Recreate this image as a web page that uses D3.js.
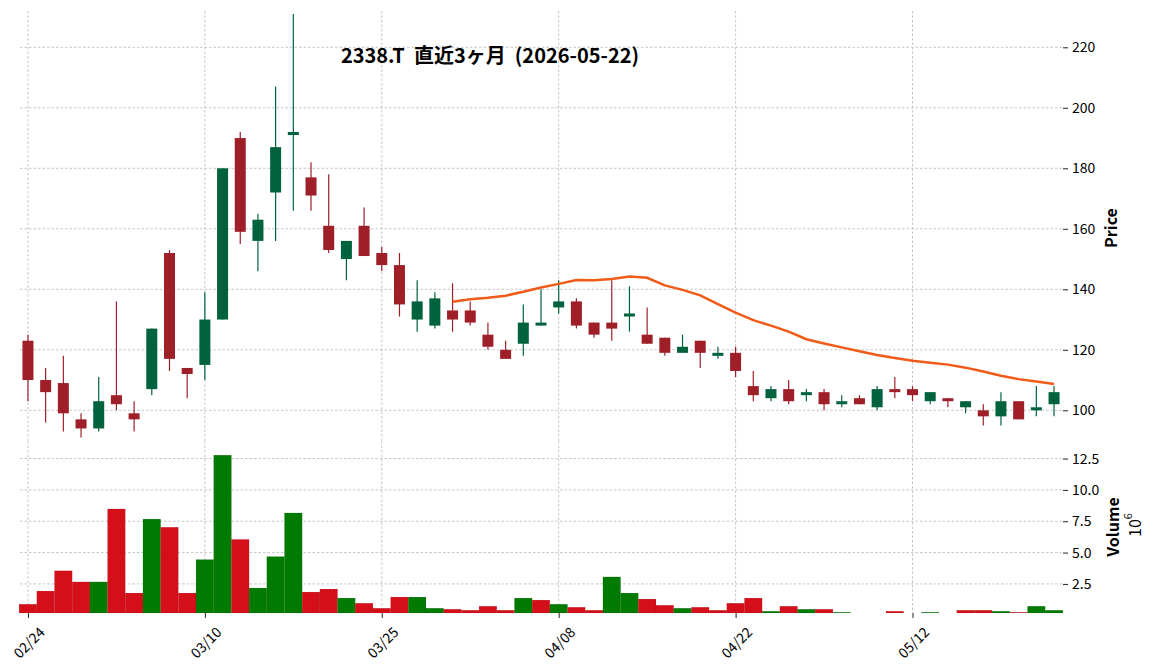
<!DOCTYPE html>
<html>
<head>
<meta charset="utf-8">
<script src="https://cdn.jsdelivr.net/npm/d3@7"></script>
<style>
  body { margin: 0; background: #fff; }
  svg text { font-family: "Noto Sans CJK JP", "Noto Sans", sans-serif; fill: #000; }
</style>
</head>
<body>
<div id="chart"></div>
<script>
// trading days, 2026
const dates = ["02/24","02/25","02/26","02/27","03/02","03/03","03/04","03/05","03/06","03/09",
  "03/10","03/11","03/12","03/13","03/16","03/17","03/18","03/19","03/23","03/24",
  "03/25","03/26","03/27","03/30","03/31","04/01","04/02","04/03","04/06","04/07",
  "04/08","04/09","04/10","04/13","04/14","04/15","04/16","04/17","04/20","04/21",
  "04/22","04/23","04/24","04/27","04/28","04/30","05/01","05/07","05/08","05/11",
  "05/12","05/13","05/14","05/15","05/18","05/19","05/20","05/21","05/22"];

const opens  = [123,110,109,97,94,105,99,107,152,114, 115,130,190,156,172,191,177,161,150,161,
  152,148,130,128,133,133,125,120,122,128, 134,136,129,129,131,125,124,119,123,118,
  119,108,104,107,105,106,102,104,101,107, 107,103,104,101,100,98,103,100,102];
const highs  = [125,114,118,99,111,136,103,127,153,114, 139,180,192,165,207,231,182,178,156,167,
  154,152,143,139,142,136,129,123,135,140, 143,137,129,143,141,134,124,125,123,121,
  121,113,108,110,107,107,105,105,108,111, 108,106,104,103,102,106,103,108,108];
const lows   = [103,96,93,91,93,100,93,105,113,104, 110,130,155,146,156,166,166,152,143,151,
  146,131,126,127,126,128,120,117,118,128, 132,127,124,123,126,122,118,119,114,117,
  111,103,103,102,103,100,101,102,100,104, 103,102,101,99,95,95,97,98,98];
const closes = [110,106,99,94,103,102,97,127,117,112, 130,180,159,163,187,192,171,153,156,151,
  148,135,136,137,130,129,121,117,129,129, 136,128,125,127,132,122,119,121,119,119,
  113,105,107,103,106,102,103,102,107,106, 105,106,103,103,98,103,97,101,106];
// volume, millions of shares
const volumes = [0.88,1.93,3.55,2.66,2.66,8.48,1.77,7.67,7.02,1.77,
  4.44,12.77,6.05,2.17,4.68,8.16,1.85,2.09,1.37,0.96,
  0.56,1.45,1.45,0.56,0.48,0.40,0.72,0.40,1.37,1.21,
  0.88,0.64,0.40,3.06,1.77,1.29,0.80,0.56,0.64,0.40,
  0.96,1.37,0.32,0.72,0.48,0.48,0.24,0.12,0.10,0.32,
  0.14,0.24,0.12,0.40,0.40,0.32,0.24,0.72,0.40];
// 25-day moving average, starts at day 24
const maStart = 24;
const ma25 = [135.9,136.7,137.2,137.9,139.2,140.6,141.8,143.1,143.0,143.4,
  144.2,143.8,141.3,139.8,138.0,135.1,132.3,129.8,128.0,126.0,
  123.5,122.1,120.8,119.5,118.3,117.3,116.4,115.7,115.1,114.1,
  112.8,111.4,110.3,109.5,108.7];

const xTickIdx = [0, 10, 20, 30, 40, 50];
const priceTicks = [100, 120, 140, 160, 180, 200, 220];
const volTicks = [2.5, 5.0, 7.5, 10.0, 12.5];

const title = "2338.T  直近3ヶ月  (2026-05-22)";

// layout
const W = 1156, H = 670;
const plotL = 20, plotR = 1062;
const priceTop = 11, priceBot = 441;
const volTop = 441, volBot = 613;

const upCandle = "#00633e", downCandle = "#9f1f29";
const upVol = "#007a00", downVol = "#d40f1a";
const gridColor = "#b8b8b8";

const svg = d3.select("#chart").append("svg")
    .attr("width", W)
    .attr("height", H);

const x = d3.scaleLinear()
    .domain([-0.45, dates.length - 0.55])
    .range([plotL, plotR]);
const step = x(1) - x(0);

const yPrice = d3.scaleLinear()
    .domain([89.85, 232.0])
    .range([priceBot, priceTop]);

const yVol = d3.scaleLinear()
    .domain([0.18, 13.9])
    .range([volBot, volTop]);

// grid
const grid = svg.append("g").attr("class", "grid");
grid.selectAll("line.hp").data(priceTicks).enter().append("line")
    .attr("x1", plotL).attr("x2", plotR)
    .attr("y1", d => yPrice(d)).attr("y2", d => yPrice(d));
grid.selectAll("line.hv").data(volTicks).enter().append("line")
    .attr("x1", plotL).attr("x2", plotR)
    .attr("y1", d => yVol(d)).attr("y2", d => yVol(d));
grid.selectAll("line.vp").data(xTickIdx).enter().append("line")
    .attr("x1", d => x(d)).attr("x2", d => x(d))
    .attr("y1", priceTop).attr("y2", priceBot);
grid.selectAll("line.vv").data(xTickIdx).enter().append("line")
    .attr("x1", d => x(d)).attr("x2", d => x(d))
    .attr("y1", volTop).attr("y2", volBot);
grid.selectAll("line")
    .attr("stroke", gridColor)
    .attr("stroke-width", 0.8)
    .attr("stroke-dasharray", "2.5,2");

// candles
const idx = d3.range(dates.length);
const candles = svg.append("g");
candles.selectAll("line.wick").data(idx).enter().append("line")
    .attr("x1", i => x(i)).attr("x2", i => x(i))
    .attr("y1", i => yPrice(highs[i])).attr("y2", i => yPrice(lows[i]))
    .attr("stroke", i => closes[i] >= opens[i] ? upCandle : downCandle)
    .attr("stroke-width", 1.2);

const bodyW = 11;
candles.selectAll("rect.body").data(idx).enter().append("rect")
    .attr("x", i => x(i) - bodyW / 2)
    .attr("width", bodyW)
    .attr("y", i => yPrice(Math.max(opens[i], closes[i])))
    .attr("height", i => Math.max(1.2, Math.abs(yPrice(opens[i]) - yPrice(closes[i]))))
    .attr("fill", i => closes[i] >= opens[i] ? upCandle : downCandle);

// moving average
const maLine = d3.line()
    .x((d, j) => x(j + maStart))
    .y(d => yPrice(d));
svg.append("path")
    .datum(ma25)
    .attr("d", maLine)
    .attr("fill", "none")
    .attr("stroke", "#f25a17")
    .attr("stroke-width", 2.5);

// volume bars, coloured by close vs previous close
svg.append("g").selectAll("rect").data(idx).enter().append("rect")
    .attr("x", i => x(i) - step / 2)
    .attr("width", step)
    .attr("y", i => Math.min(volBot, yVol(volumes[i])))
    .attr("height", i => Math.max(0, volBot - yVol(volumes[i])))
    .attr("fill", i => (i > 0 && closes[i] > closes[i - 1]) ? upVol : downVol)
    .attr("stroke", "rgba(0,0,0,0.12)")
    .attr("stroke-width", 0.5);

// right axes
const axisPrice = d3.axisRight(yPrice).tickValues(priceTicks).tickSize(5).tickPadding(4);
const gP = svg.append("g")
    .attr("transform", "translate(" + (plotR + 1) + ",0)")
    .call(axisPrice);

const axisVol = d3.axisRight(yVol).tickValues(volTicks).tickSize(5).tickPadding(4)
    .tickFormat(d3.format(".1f"));
const gV = svg.append("g")
    .attr("transform", "translate(" + (plotR + 1) + ",0)")
    .call(axisVol);

const axisX = d3.axisBottom(x).tickValues(xTickIdx).tickSize(5).tickFormat(i => dates[i]);
const gX = svg.append("g")
    .attr("transform", "translate(0," + volBot + ")")
    .call(axisX);

[gP, gV, gX].forEach(g => {
  g.select(".domain").remove();
  g.selectAll(".tick line").attr("stroke", "#222").attr("stroke-width", 1);
  g.selectAll(".tick text").style("font-size", "14px").attr("fill", "#000");
});

gX.selectAll(".tick text")
    .attr("y", 0).attr("dy", 0)
    .attr("text-anchor", "middle")
    .attr("dominant-baseline", "central")
    .attr("transform", "translate(0,29) rotate(-45)");

// axis labels
svg.append("text")
    .attr("transform", "translate(1110,228) rotate(-90)")
    .attr("text-anchor", "middle")
    .attr("dominant-baseline", "central")
    .style("font-size", "16px").style("font-weight", "bold")
    .text("Price");

svg.append("text")
    .attr("transform", "translate(1112,527) rotate(-90)")
    .attr("text-anchor", "middle")
    .attr("dominant-baseline", "central")
    .style("font-size", "16px").style("font-weight", "bold")
    .text("Volume");

const exp = svg.append("text")
    .attr("transform", "translate(1134,525) rotate(-90)")
    .attr("text-anchor", "middle")
    .attr("dominant-baseline", "central")
    .style("font-size", "16px");
exp.append("tspan").text("10");
exp.append("tspan").attr("dy", -7).style("font-size", "11px").text("6");

// title
svg.append("text")
    .attr("x", 490).attr("y", 63)
    .attr("text-anchor", "middle")
    .style("font-size", "20px").style("font-weight", "bold")
    .style("white-space", "pre")
    .attr("xml:space", "preserve")
    .text(title);
</script>
</body>
</html>
